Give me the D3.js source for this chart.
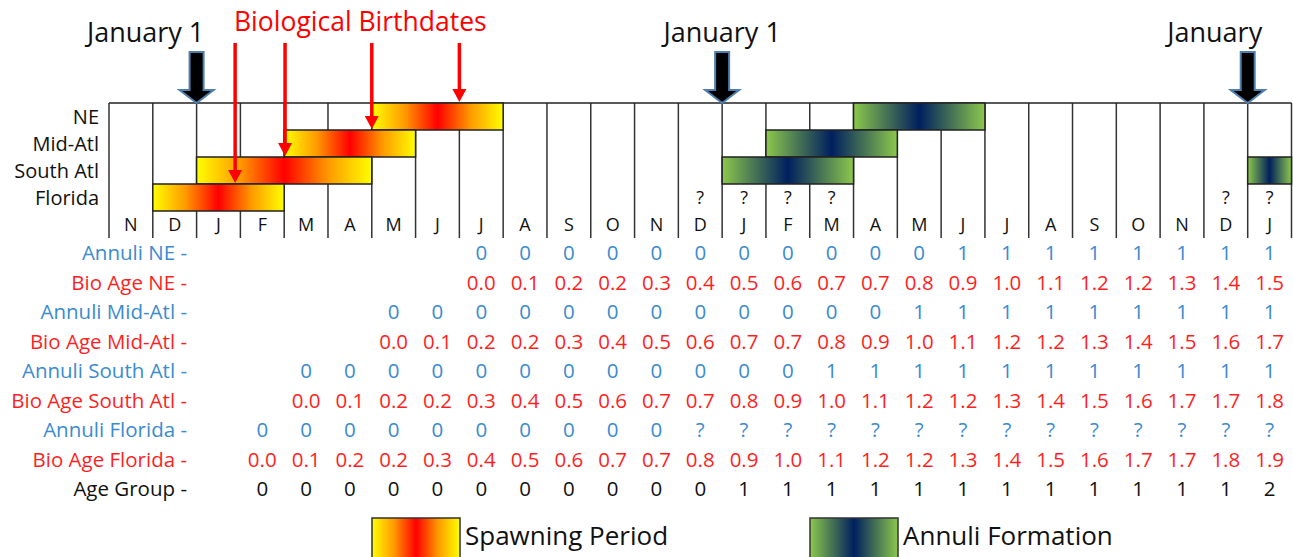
<!DOCTYPE html>
<html>
<head>
<meta charset="utf-8">
<script src="https://cdn.jsdelivr.net/npm/d3@7"></script>
<style>
  body { margin: 0; background: #fff; }
  svg { font-family: "Open Sans", sans-serif; display: block; }
</style>
</head>
<body>
<div id="wrapper"></div>
<script>
// month columns, Nov -> Jan (two years)
const months = ["N","D","J","F","M","A","M","J","J","A","S","O","N","D","J","F","M","A","M","J","J","A","S","O","N","D","J"];
const regions = ["NE", "Mid-Atl", "South Atl", "Florida"];

// bars: start / end in month-column units
const spawning = [
  { region: "NE", start: 6, end: 9 },
  { region: "Mid-Atl", start: 4, end: 7 },
  { region: "South Atl", start: 2, end: 6 },
  { region: "Florida", start: 1, end: 4 },
];
const annuli = [
  { region: "NE", start: 17, end: 20 },
  { region: "Mid-Atl", start: 15, end: 18 },
  { region: "South Atl", start: 14, end: 17 },
  { region: "South Atl", start: 26, end: 27 },
];
// columns where Florida annuli formation is unknown
const floridaUnknown = [13, 14, 15, 16, 25, 26];

const birthdates = [
  { region: "Florida", at: 2.88 },
  { region: "South Atl", at: 4.02 },
  { region: "Mid-Atl", at: 6.0 },
  { region: "NE", at: 8.0 },
];
const januaryMarks = [
  { at: 2, label: "January 1" },
  { at: 14, label: "January 1" },
  { at: 26, label: "January" },
];

// table rows (first column index + values)
const annuliNE = [0,0,0,0,0,0,0,0,0,0,0,1,1,1,1,1,1,1,1];
const bioAgeNE = [0.0,0.1,0.2,0.2,0.3,0.4,0.5,0.6,0.7,0.7,0.8,0.9,1.0,1.1,1.2,1.2,1.3,1.4,1.5];
const annuliMidAtl = [0,0,0,0,0,0,0,0,0,0,0,0,1,1,1,1,1,1,1,1,1];
const bioAgeMidAtl = [0.0,0.1,0.2,0.2,0.3,0.4,0.5,0.6,0.7,0.7,0.8,0.9,1.0,1.1,1.2,1.2,1.3,1.4,1.5,1.6,1.7];
const annuliSouthAtl = [0,0,0,0,0,0,0,0,0,0,0,0,1,1,1,1,1,1,1,1,1,1,1];
const bioAgeSouthAtl = [0.0,0.1,0.2,0.2,0.3,0.4,0.5,0.6,0.7,0.7,0.8,0.9,1.0,1.1,1.2,1.2,1.3,1.4,1.5,1.6,1.7,1.7,1.8];
const annuliFlorida = [0,0,0,0,0,0,0,0,0,0,null,null,null,null,null,null,null,null,null,null,null,null,null,null];
const bioAgeFlorida = [0.0,0.1,0.2,0.2,0.3,0.4,0.5,0.6,0.7,0.7,0.8,0.9,1.0,1.1,1.2,1.2,1.3,1.4,1.5,1.6,1.7,1.7,1.8,1.9];
const ageGroup = [0,0,0,0,0,0,0,0,0,0,0,1,1,1,1,1,1,1,1,1,1,1,1,2];

const tableRows = [
  { label: "Annuli NE", kind: "annuli", start: 8, values: annuliNE },
  { label: "Bio Age NE", kind: "bio", start: 8, values: bioAgeNE },
  { label: "Annuli Mid-Atl", kind: "annuli", start: 6, values: annuliMidAtl },
  { label: "Bio Age Mid-Atl", kind: "bio", start: 6, values: bioAgeMidAtl },
  { label: "Annuli South Atl", kind: "annuli", start: 4, values: annuliSouthAtl },
  { label: "Bio Age South Atl", kind: "bio", start: 4, values: bioAgeSouthAtl },
  { label: "Annuli Florida", kind: "annuli", start: 3, values: annuliFlorida },
  { label: "Bio Age Florida", kind: "bio", start: 3, values: bioAgeFlorida },
  { label: "Age Group", kind: "age", start: 3, values: ageGroup },
];

function drawChart() {
  const width = 1293;
  const height = 557;
  const grid = { left: 109, right: 1291.5, top: 103, bottom: 238 };

  const svg = d3.select("#wrapper").append("svg")
    .attr("width", width)
    .attr("height", height);

  // gradients
  const defs = svg.append("defs");
  const spawnGrad = defs.append("linearGradient").attr("id", "spawnGrad");
  [["0%", "#ffff00"], ["25%", "#ff9900"], ["50%", "#ff0000"], ["75%", "#ff9900"], ["100%", "#ffff00"]]
    .forEach(([o, c]) => spawnGrad.append("stop").attr("offset", o).attr("stop-color", c));
  const annuliGrad = defs.append("linearGradient").attr("id", "annuliGrad");
  [["0%", "#8cc84b"], ["50%", "#001f5f"], ["100%", "#8cc84b"]]
    .forEach(([o, c]) => annuliGrad.append("stop").attr("offset", o).attr("stop-color", c));

  // scales
  const x = d3.scaleLinear().domain([0, months.length]).range([grid.left, grid.right]);
  const y = d3.scaleBand().domain([...regions, "months"]).range([grid.top, grid.bottom]);
  const rowY = d3.scalePoint().domain(tableRows.map((d) => d.label)).range([253, 489]);

  const textColor = { annuli: "#3b8bd0", bio: "#ff1f1f", age: "#111" };

  // grid lines
  const gridG = svg.append("g");
  gridG.selectAll("line.v")
    .data(d3.range(months.length + 1))
    .join("line")
    .attr("x1", (d) => x(d)).attr("x2", (d) => x(d))
    .attr("y1", grid.top).attr("y2", grid.bottom)
    .attr("stroke", "#333").attr("stroke-width", 1.5);
  gridG.append("line")
    .attr("x1", grid.left).attr("x2", grid.right)
    .attr("y1", grid.top).attr("y2", grid.top)
    .attr("stroke", "#222").attr("stroke-width", 1.5);

  // bars
  const barG = svg.append("g");
  barG.selectAll("rect.spawn")
    .data(spawning)
    .join("rect")
    .attr("x", (d) => x(d.start)).attr("width", (d) => x(d.end) - x(d.start))
    .attr("y", (d) => y(d.region)).attr("height", y.bandwidth())
    .attr("fill", "url(#spawnGrad)")
    .attr("stroke", "#222").attr("stroke-width", 1.5);
  barG.selectAll("rect.annuli")
    .data(annuli)
    .join("rect")
    .attr("x", (d) => x(d.start)).attr("width", (d) => x(d.end) - x(d.start))
    .attr("y", (d) => y(d.region)).attr("height", y.bandwidth())
    .attr("fill", "url(#annuliGrad)")
    .attr("stroke", "#222").attr("stroke-width", 1.5);

  // region labels
  svg.append("g").selectAll("text")
    .data(regions)
    .join("text")
    .attr("x", grid.left - 10)
    .attr("y", (d) => y(d) + y.bandwidth() / 2)
    .attr("dy", "0.35em")
    .attr("text-anchor", "end")
    .attr("font-size", 20)
    .attr("fill", "#111")
    .text((d) => d);

  // month labels
  svg.append("g").selectAll("text")
    .data(months)
    .join("text")
    .attr("x", (d, i) => x(i + 0.5))
    .attr("y", y("months") + y.bandwidth() / 2)
    .attr("dy", "0.35em")
    .attr("text-anchor", "middle")
    .attr("font-size", 18)
    .attr("fill", "#111")
    .text((d) => d);

  // unknown annuli marks for Florida
  svg.append("g").selectAll("text")
    .data(floridaUnknown)
    .join("text")
    .attr("x", (d) => x(d + 0.5))
    .attr("y", y("Florida") + y.bandwidth() / 2)
    .attr("dy", "0.35em")
    .attr("text-anchor", "middle")
    .attr("font-size", 18)
    .attr("fill", "#111")
    .text("?");

  // January 1 arrows
  const arrowTop = 52, headLen = 13, shaftHalf = 7, headHalf = 17;
  const janG = svg.append("g");
  janG.selectAll("path")
    .data(januaryMarks)
    .join("path")
    .attr("d", (d) => {
      const cx = x(d.at), tip = grid.top;
      const p = d3.path();
      p.moveTo(cx - shaftHalf, arrowTop);
      p.lineTo(cx + shaftHalf, arrowTop);
      p.lineTo(cx + shaftHalf, tip - headLen);
      p.lineTo(cx + headHalf, tip - headLen);
      p.lineTo(cx, tip);
      p.lineTo(cx - headHalf, tip - headLen);
      p.lineTo(cx - shaftHalf, tip - headLen);
      p.closePath();
      return p.toString();
    })
    .attr("fill", "#000")
    .attr("stroke", "#4f7fae").attr("stroke-width", 2);
  janG.selectAll("text")
    .data(januaryMarks)
    .join("text")
    .attr("x", (d, i) => x(d.at) + (i == 0 ? -51 : i == 2 ? -33 : 0))
    .attr("y", 42)
    .attr("text-anchor", "middle")
    .attr("font-size", 27)
    .attr("fill", "#111")
    .text((d) => d.label);

  // biological birthdates arrows
  const bioG = svg.append("g");
  bioG.selectAll("line")
    .data(birthdates)
    .join("line")
    .attr("x1", (d) => x(d.at)).attr("x2", (d) => x(d.at))
    .attr("y1", 43).attr("y2", (d) => y(d.region) - 10)
    .attr("stroke", "#ff0000").attr("stroke-width", 3.5);
  bioG.selectAll("path")
    .data(birthdates)
    .join("path")
    .attr("d", (d) => {
      const cx = x(d.at), tip = y(d.region) - 1;
      return `M${cx - 7},${tip - 13}L${cx + 7},${tip - 13}L${cx},${tip}Z`;
    })
    .attr("fill", "#ff0000");
  svg.append("text")
    .attr("x", 234).attr("y", 31)
    .attr("font-size", 26.5)
    .attr("fill", "#ff0000")
    .text("Biological Birthdates");

  // table
  const tableG = svg.append("g");
  const rowsG = tableG.selectAll("g")
    .data(tableRows)
    .join("g")
    .attr("transform", (d) => `translate(0,${rowY(d.label)})`);
  rowsG.append("text")
    .attr("x", 187)
    .attr("dy", "0.35em")
    .attr("text-anchor", "end")
    .attr("font-size", 20.5)
    .attr("fill", (d) => textColor[d.kind])
    .text((d) => d.label + " -");
  const fmt = d3.format(".1f");
  rowsG.selectAll("text.v")
    .data((d) => d.values.map((v, i) => ({ v, col: d.start + i, kind: d.kind })))
    .join("text")
    .attr("class", "v")
    .attr("x", (d) => x(d.col + 0.5))
    .attr("dy", "0.35em")
    .attr("text-anchor", "middle")
    .attr("font-size", 20.5)
    .attr("fill", (d) => textColor[d.kind])
    .text((d) => (d.v == null ? "?" : d.kind == "bio" ? fmt(d.v) : d.v));

  // legend
  const legend = [
    { label: "Spawning Period", fill: "url(#spawnGrad)", x: 372 },
    { label: "Annuli Formation", fill: "url(#annuliGrad)", x: 810 },
  ];
  const legG = svg.append("g").selectAll("g")
    .data(legend)
    .join("g")
    .attr("transform", (d) => `translate(${d.x},518)`);
  legG.append("rect")
    .attr("width", 88).attr("height", 50)
    .attr("fill", (d) => d.fill)
    .attr("stroke", "#333").attr("stroke-width", 1.5);
  legG.append("text")
    .attr("x", 93).attr("y", 27)
    .attr("font-size", 26)
    .attr("fill", "#111")
    .text((d) => d.label);
}
drawChart();
</script>
</body>
</html>
